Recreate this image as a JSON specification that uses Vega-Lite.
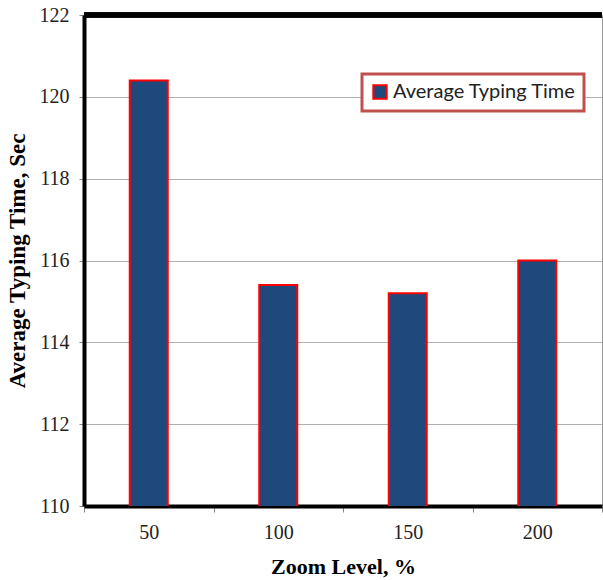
{
  "$schema": "https://vega.github.io/schema/vega-lite/v6.json",
  "width": 518,
  "height": 491,
  "autosize": {"type": "none"},
  "padding": {"left": 84, "top": 15, "right": 1, "bottom": 74},
  "background": "white",
  "config": {
    "view": {"stroke": "#999999", "strokeWidth": 1},
    "font": "Liberation Serif",
    "axisY": {
      "titleFont": "Liberation Serif", "titleFontSize": 23, "titleFontWeight": "bold", "titleColor": "#000000",
      "titlePadding": 10,
      "labelFont": "Liberation Serif", "labelFontSize": 20, "labelColor": "#222222", "labelPadding": 10,
      "tickColor": "#888888", "tickSize": 5,
      "domainColor": "#000000", "domainWidth": 4,
      "grid": true, "gridColor": "#b0b0b0", "gridWidth": 1
    },
    "axisX": {
      "titleFont": "Liberation Serif", "titleFontSize": 22, "titleFontWeight": "bold", "titleColor": "#000000",
      "titlePadding": 14,
      "labelFont": "Liberation Serif", "labelFontSize": 20, "labelColor": "#222222", "labelAngle": 0, "labelPadding": 10,
      "tickBand": "extent", "tickColor": "#888888", "tickSize": 6,
      "domainColor": "#000000", "domainWidth": 4, "grid": false
    }
  },
  "data": {
    "values": [
      {"zoom": "50", "time": 120.4, "series": "Average Typing Time"},
      {"zoom": "100", "time": 115.4, "series": "Average Typing Time"},
      {"zoom": "150", "time": 115.2, "series": "Average Typing Time"},
      {"zoom": "200", "time": 116.0, "series": "Average Typing Time"}
    ]
  },
  "layer": [
    {
      "mark": {"type": "bar", "size": 38, "stroke": "#ff0000", "strokeWidth": 2, "clip": true},
      "encoding": {
        "x": {
          "field": "zoom", "type": "ordinal", "sort": null,
          "scale": {"paddingInner": 0, "paddingOuter": 0},
          "axis": {"title": "Zoom Level, %"}
        },
        "y": {
          "field": "time", "type": "quantitative",
          "scale": {"domain": [110, 122], "zero": false, "nice": false},
          "axis": {"title": "Average Typing Time, Sec", "values": [110, 112, 114, 116, 118, 120, 122]}
        },
        "color": {
          "field": "series", "type": "nominal",
          "scale": {"range": ["#1f497d"]},
          "legend": {
            "title": null, "orient": "none", "legendX": 278, "legendY": 59,
            "direction": "vertical",
            "symbolType": "square", "symbolSize": 180, "symbolStrokeColor": "#ff0000", "symbolStrokeWidth": 2,
            "symbolFillColor": "#1f497d",
            "labelFont": "Lato", "labelFontSize": 20, "labelColor": "#222222", "labelOffset": 3,
            "strokeColor": "#c0504d", "padding": 8, "fillColor": "white",
            "labelLimit": 300,
            "encode": {"legend": {"update": {"strokeWidth": {"value": 3}}}}
          }
        }
      }
    },
    {
      "mark": {"type": "rule", "color": "#000000", "strokeWidth": 5},
      "encoding": {"y": {"datum": 122}}
    }
  ]
}
